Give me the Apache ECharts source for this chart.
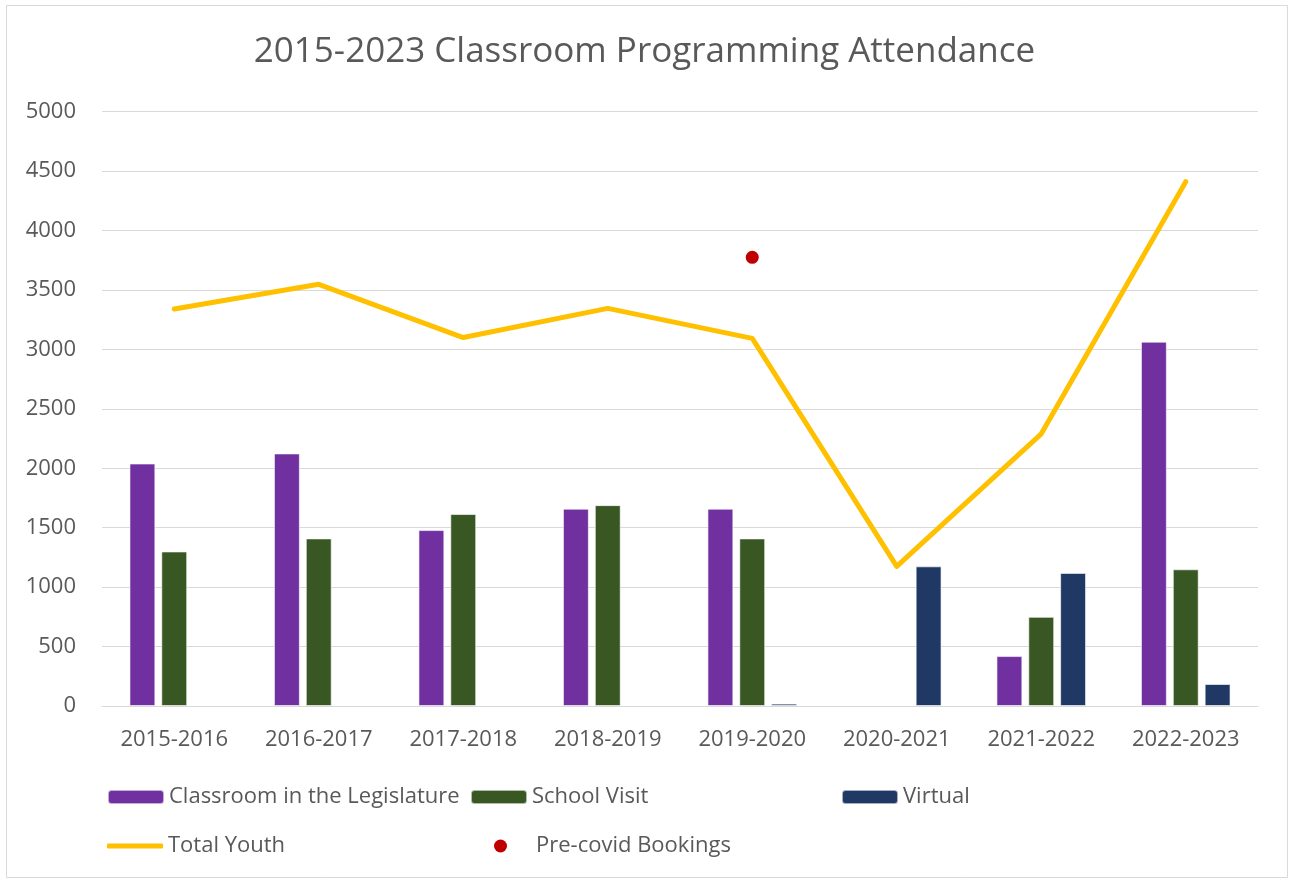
<!DOCTYPE html>
<html>
<head>
<meta charset="utf-8">
<script src="https://cdn.jsdelivr.net/npm/echarts@6/dist/echarts.min.js"></script>
<style>
  html, body { margin: 0; padding: 0; background: #fff; }
  #main { width: 1289px; height: 882px; }
</style>
</head>
<body>
<div id="main"></div>
<script>
// school years on the x axis
var years = ['2015-2016', '2016-2017', '2017-2018', '2018-2019', '2019-2020', '2020-2021', '2021-2022', '2022-2023'];
// attendance per program (null = no bar)
var classroom = [2040, 2125, 1480, 1660, 1660, null, 420, 3065];
var schoolVisit = [1300, 1410, 1615, 1690, 1410, null, 750, 1150];
var virtual = [null, null, null, null, 20, 1175, 1120, 185];
var totalYouth = [3340, 3548, 3100, 3345, 3093, 1175, 2290, 4411];
var precovid = [null, null, null, null, 3775, null, null, null];
var yTicks = [0, 5000, 500]; // min, max, step

var FONT = '"Open Sans", "Noto Sans", sans-serif';
var GREY = '#595959';

var myChart = echarts.init(document.getElementById('main'));

function legendAt(name, left, top, extra) {
    var l = {
        data: [name],
        left: left,
        top: top,
        padding: 0,
        itemWidth: 56,
        itemHeight: 14,
        itemGap: 0,
        textStyle: { color: GREY, fontSize: 22, fontFamily: FONT }
    };
    for (var k in extra) l[k] = extra[k];
    return l;
}

myChart.setOption({
    animation: false,
    backgroundColor: '#fff',
    title: {
        text: '2015-2023 Classroom Programming Attendance',
        left: 'center',
        top: 35,
        padding: 0,
        textStyle: { color: GREY, fontSize: 35, fontWeight: 'normal', fontFamily: FONT }
    },
    graphic: [{
        type: 'rect',
        shape: { x: 6.5, y: 5.5, width: 1281, height: 872 },
        style: { fill: 'none', stroke: '#d9d9d9', lineWidth: 1 },
        silent: true
    }],
    legend: [
        legendAt('Classroom in the Legislature', 107, 786),
        legendAt('School Visit', 470, 786),
        legendAt('Virtual', 841, 786),
        legendAt('Total Youth', 107, 835, { icon: 'roundRect', itemHeight: 5 }),
        legendAt('Pre-covid Bookings', 494, 835, {
            icon: 'circle', itemWidth: 13, itemHeight: 13,
            textStyle: { color: GREY, fontSize: 22, fontFamily: FONT, padding: [0, 0, 0, 24] }
        })
    ],
    grid: { left: 102, right: 31, top: 111.7, bottom: 176 },
    xAxis: {
        type: 'category',
        data: years,
        axisTick: { show: false },
        axisLine: { lineStyle: { color: '#d9d9d9', width: 1 } },
        axisLabel: { color: GREY, fontSize: 22, fontFamily: FONT, margin: 23 }
    },
    yAxis: {
        type: 'value',
        min: yTicks[0],
        max: yTicks[1],
        interval: yTicks[2],
        axisLine: { show: false },
        axisTick: { show: false },
        axisLabel: {
            color: GREY, fontSize: 22, fontFamily: FONT, margin: 26,
            formatter: function (v) { return String(v); }
        },
        splitLine: { lineStyle: { color: '#d9d9d9', width: 1 } }
    },
    series: [
        {
            name: 'Classroom in the Legislature',
            type: 'bar',
            data: classroom,
            barGap: '23%',
            barCategoryGap: '38%',
            itemStyle: { color: '#7030A0', borderColor: 'rgba(255,255,255,0.6)', borderWidth: 1 }
        },
        {
            name: 'School Visit',
            type: 'bar',
            data: schoolVisit,
            itemStyle: { color: '#385723', borderColor: 'rgba(255,255,255,0.6)', borderWidth: 1 }
        },
        {
            name: 'Virtual',
            type: 'bar',
            data: virtual,
            itemStyle: { color: '#203864', borderColor: 'rgba(255,255,255,0.6)', borderWidth: 1 }
        },
        {
            name: 'Total Youth',
            type: 'line',
            data: totalYouth,
            symbol: 'none',
            z: 5,
            itemStyle: { color: '#FFC000' },
            lineStyle: { color: '#FFC000', width: 5, cap: 'round', join: 'round' }
        },
        {
            name: 'Pre-covid Bookings',
            type: 'scatter',
            data: precovid,
            symbolSize: 13,
            z: 6,
            itemStyle: { color: '#C00000', opacity: 1 }
        }
    ]
});
</script>
</body>
</html>
